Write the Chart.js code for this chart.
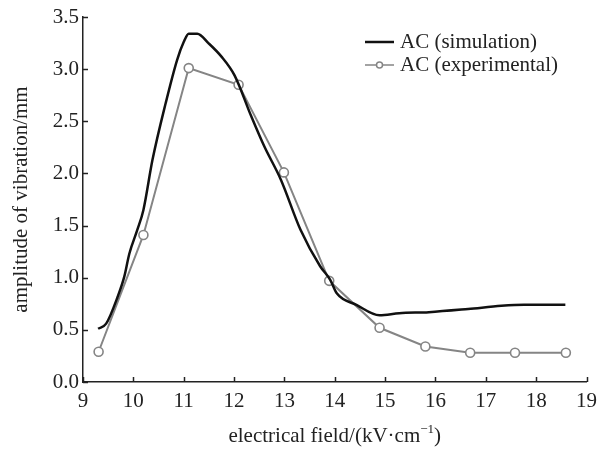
<!DOCTYPE html>
<html>
<head>
<meta charset="utf-8">
<script src="https://cdn.jsdelivr.net/npm/chart.js@4/dist/chart.umd.min.js"></script>
<style>
html,body{margin:0;padding:0;background:#fff;}
#wrap{width:604px;height:450px;}
</style>
</head>
<body>
<div id="wrap"><canvas id="c" width="604" height="450"></canvas></div>
<script>
const seriesNames = ['AC (simulation)', 'AC (experimental)'];
const simX = [9.30,9.46,9.69,9.82,9.92,10.08,10.20,10.38,10.64,10.87,11.00,11.10,11.27,11.49,11.75,12.01,12.34,12.60,12.93,13.32,13.71,13.91,14.04,14.43,14.89,15.28,15.87,16.65,17.31,17.76,18.58];
const simY = [0.51,0.56,0.82,1.01,1.23,1.46,1.65,2.13,2.67,3.09,3.26,3.34,3.34,3.25,3.12,2.94,2.55,2.26,1.94,1.46,1.11,0.98,0.85,0.74,0.64,0.66,0.67,0.70,0.73,0.74,0.74];
const expX = [9.31,10.20,11.10,12.09,12.99,13.89,14.89,15.80,16.69,17.58,18.59];
const expY = [0.29,1.41,3.01,2.85,2.01,0.97,0.52,0.34,0.28,0.28,0.28];
const xTicks = [9,10,11,12,13,14,15,16,17,18,19];
const yTicks = [0,0.5,1,1.5,2,2.5,3,3.5];
const xTitleMain = 'electrical field/(kV\u00b7cm';
const xTitleSup = '\u22121';
const xTitleEnd = ')';
const yTitle = 'amplitude of vibration/mm';

const FONT = "'Liberation Serif','Times New Roman',serif";
const simColor = '#111111';
const expColor = '#858585';

const inwardTicks = {
  id: 'inwardTicks',
  afterDraw(chart) {
    const ctx = chart.ctx, xs = chart.scales.x, ys = chart.scales.y;
    ctx.save();
    ctx.strokeStyle = '#222';
    ctx.lineWidth = 1.5;
    const L = 5;
    xTicks.forEach(v => {
      const px = Math.round(xs.getPixelForValue(v)) + 0.5;
      ctx.beginPath(); ctx.moveTo(px, ys.bottom); ctx.lineTo(px, ys.bottom - L); ctx.stroke();
    });
    yTicks.forEach(v => {
      const py = Math.round(ys.getPixelForValue(v)) + 0.5;
      ctx.beginPath(); ctx.moveTo(xs.left, py); ctx.lineTo(xs.left + L, py); ctx.stroke();
    });
    ctx.restore();
  }
};

const customText = {
  id: 'customText',
  afterDraw(chart) {
    const ctx = chart.ctx, xs = chart.scales.x;
    ctx.save();
    // x title with superscript
    ctx.fillStyle = '#222';
    ctx.textBaseline = 'alphabetic';
    const big = '21px ' + FONT, small = '13px ' + FONT;
    ctx.font = big; const w1 = ctx.measureText(xTitleMain).width; const w3 = ctx.measureText(xTitleEnd).width;
    ctx.font = small; const w2 = ctx.measureText(xTitleSup).width;
    const total = w1 + w2 + w3;
    let x0 = (xs.left + xs.right) / 2 - total / 2;
    const base = 442;
    ctx.textAlign = 'left';
    ctx.font = big; ctx.fillText(xTitleMain, x0, base);
    ctx.font = small; ctx.fillText(xTitleSup, x0 + w1, base - 9);
    ctx.font = big; ctx.fillText(xTitleEnd, x0 + w1 + w2, base);
    // legend
    const lx0 = 365, lx1 = 394, tx = 400;
    const rows = [42, 65];
    ctx.textBaseline = 'middle';
    ctx.font = '21px ' + FONT;
    // simulation
    ctx.strokeStyle = simColor; ctx.lineWidth = 2.5;
    ctx.beginPath(); ctx.moveTo(lx0, rows[0]); ctx.lineTo(lx1, rows[0]); ctx.stroke();
    ctx.fillStyle = '#222';
    ctx.fillText(seriesNames[0], tx, rows[0]);
    // experimental
    ctx.strokeStyle = expColor; ctx.lineWidth = 1.5;
    ctx.beginPath(); ctx.moveTo(lx0, rows[1]); ctx.lineTo(lx1, rows[1]); ctx.stroke();
    ctx.beginPath(); ctx.arc((lx0 + lx1) / 2, rows[1], 3, 0, Math.PI * 2);
    ctx.fillStyle = '#fff'; ctx.fill(); ctx.stroke();
    ctx.fillStyle = '#222';
    ctx.fillText(seriesNames[1], tx, rows[1]);
    ctx.restore();
  }
};

new Chart(document.getElementById('c'), {
  type: 'line',
  data: {
    datasets: [
      {
        label: seriesNames[0],
        data: simX.map((x, i) => ({x, y: simY[i]})),
        borderColor: simColor,
        borderWidth: 2.5,
        pointRadius: 0,
        tension: 0.35,
        cubicInterpolationMode: 'monotone',
        fill: false
      },
      {
        label: seriesNames[1],
        data: expX.map((x, i) => ({x, y: expY[i]})),
        borderColor: expColor,
        borderWidth: 2,
        pointRadius: 4.5,
        pointBorderWidth: 1.6,
        pointBackgroundColor: '#fff',
        pointBorderColor: expColor,
        tension: 0,
        fill: false
      }
    ]
  },
  options: {
    responsive: false,
    animation: false,
    devicePixelRatio: 1,
    layout: { padding: { top: 17, right: 11, left: 0, bottom: 0 } },
    plugins: { legend: { display: false }, tooltip: { enabled: false } },
    scales: {
      x: {
        type: 'linear',
        min: 9, max: 19,
        afterFit(s) { s.height = 68; },
        afterBuildTicks(s) { s.ticks = xTicks.map(v => ({value: v})); },
        grid: { display: true, drawOnChartArea: false, drawTicks: false },
        border: { display: true, color: '#222', width: 1.5 },
        ticks: { padding: 7, color: '#222', font: { family: FONT, size: 21 }, maxRotation: 0, autoSkip: false },
        title: { display: false }
      },
      y: {
        type: 'linear',
        min: 0, max: 3.5,
        afterFit(s) { s.width = 83; },
        afterBuildTicks(s) { s.ticks = yTicks.map(v => ({value: v})); },
        grid: { display: true, drawOnChartArea: false, drawTicks: false },
        border: { display: true, color: '#222', width: 1.5 },
        ticks: { padding: 4, color: '#222', font: { family: FONT, size: 21 }, callback: v => Number(v).toFixed(1) },
        title: { display: true, text: yTitle, color: '#222', font: { family: FONT, size: 21 }, padding: { top: 9, bottom: 0 } }
      }
    }
  },
  plugins: [inwardTicks, customText]
});
</script>
</body>
</html>
